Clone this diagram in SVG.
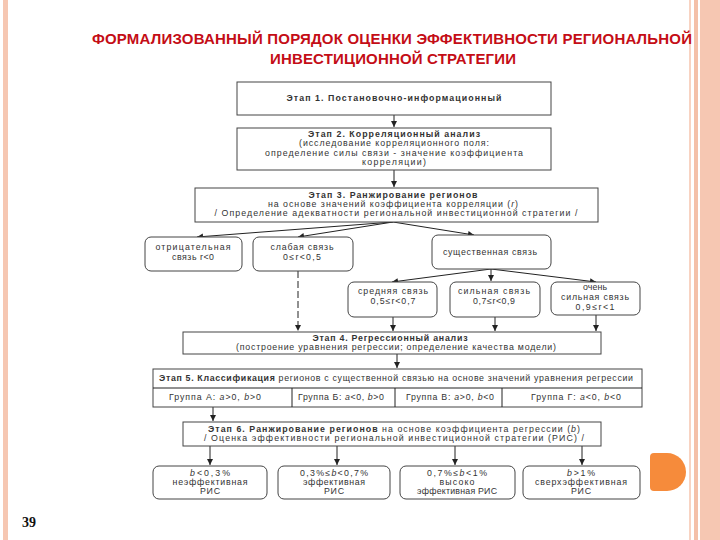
<svg xmlns="http://www.w3.org/2000/svg" width="720" height="540" viewBox="0 0 720 540">
<defs>
<marker id="ah" markerUnits="userSpaceOnUse" markerWidth="7" markerHeight="7" refX="6" refY="3" orient="auto">
<path d="M0,0 L6,3 L0,6 Z" fill="#222"/>
</marker>
<style>
.box{fill:#fff;stroke:#444;stroke-width:1}
.t{font-family:"Liberation Sans",Arial,sans-serif;font-size:8.8px;fill:#333;text-anchor:middle}
.b{font-weight:bold}
.i{font-style:italic}
.ln{stroke:#222;stroke-width:1;fill:none}
.ttl{font-family:"Liberation Sans",Arial,sans-serif;font-size:15px;font-weight:bold;fill:#c40d16;text-anchor:middle}
</style>
</defs>
<rect width="720" height="540" fill="#fff"/>
<!-- decorations -->
<rect x="3" y="0" width="5" height="540" fill="#f6c7b2"/>
<rect x="689" y="0" width="2" height="540" fill="#f8d3c2"/>
<rect x="694" y="0" width="4" height="540" fill="#f4c0a8"/>
<rect x="700" y="0" width="20" height="540" fill="#f6c7b2"/>
<path d="M654,453 H667 A19,19 0 0 1 667,491 H654 Q650,491 650,487 V457 Q650,453 654,453 Z" fill="#f68b3b"/>
<text x="22" y="527" font-family="Liberation Serif,serif" font-weight="bold" font-size="14" fill="#111">39</text>
<!-- title -->
<text class="ttl" x="392" y="44" textLength="600">ФОРМАЛИЗОВАННЫЙ ПОРЯДОК ОЦЕНКИ ЭФФЕКТИВНОСТИ РЕГИОНАЛЬНОЙ</text>
<text class="ttl" x="393" y="64" textLength="246">ИНВЕСТИЦИОННОЙ СТРАТЕГИИ</text>

<g id="connectors">
<line class="ln" x1="394" y1="115" x2="394" y2="127" marker-end="url(#ah)"/>
<line class="ln" x1="394" y1="170" x2="394" y2="187" marker-end="url(#ah)"/>
<line class="ln" x1="393" y1="222" x2="197" y2="237" marker-end="url(#ah)"/>
<line class="ln" x1="393" y1="222" x2="298" y2="237" marker-end="url(#ah)"/>
<line class="ln" x1="393" y1="222" x2="474" y2="235" marker-end="url(#ah)"/>
<line class="ln" x1="491" y1="269" x2="491" y2="281" marker-end="url(#ah)"/>
<line class="ln" x1="491" y1="269" x2="392" y2="282" marker-end="url(#ah)"/>
<line class="ln" x1="491" y1="269" x2="596" y2="282" marker-end="url(#ah)"/>
<line class="ln" x1="298" y1="271" x2="298" y2="331" stroke-dasharray="7,3" marker-end="url(#ah)"/>
<line class="ln" x1="393" y1="317" x2="393" y2="331" marker-end="url(#ah)"/>
<line class="ln" x1="495" y1="317" x2="495" y2="331" marker-end="url(#ah)"/>
<line class="ln" x1="596" y1="315" x2="596" y2="331" marker-end="url(#ah)"/>
<line class="ln" x1="397" y1="354" x2="397" y2="368" marker-end="url(#ah)"/>
<line class="ln" x1="213" y1="407" x2="213" y2="421" marker-end="url(#ah)"/>
<line class="ln" x1="210" y1="446" x2="210" y2="465" marker-end="url(#ah)"/>
<line class="ln" x1="337" y1="446" x2="337" y2="465" marker-end="url(#ah)"/>
<line class="ln" x1="455" y1="446" x2="455" y2="465" marker-end="url(#ah)"/>
<line class="ln" x1="582" y1="446" x2="582" y2="465" marker-end="url(#ah)"/>
</g>

<g id="stage1">
<rect class="box" x="237" y="82" width="314" height="33"/>
<text class="t b" x="394" y="101" textLength="215">Этап 1. Постановочно-информационный</text>
</g>
<g id="stage2">
<rect class="box" x="237" y="128" width="314" height="42"/>
<text class="t b" x="394" y="137" textLength="172">Этап 2. Корреляционный анализ</text>
<text class="t" x="394" y="146" textLength="190">(исследование корреляционного поля:</text>
<text class="t" x="394" y="156" textLength="258">определение силы связи - значение коэффициента</text>
<text class="t" x="394" y="165" textLength="64">корреляции)</text>
</g>
<g id="stage3">
<rect class="box" x="195" y="188" width="403" height="34"/>
<text class="t b" x="393" y="198" textLength="169">Этап 3. Ранжирование регионов</text>
<text class="t" x="393" y="207" textLength="250">на основе значений коэффициента корреляции (<tspan class="i">r</tspan>)</text>
<text class="t" x="396" y="216" textLength="363">/ Определение адекватности региональной инвестиционной стратегии /</text>
</g>
<g id="negative">
<rect class="box" x="145" y="237" width="97" height="34" rx="6"/>
<text class="t" x="193" y="250" textLength="75">отрицательная</text>
<text class="t" x="193" y="260" textLength="42">связь r&lt;0</text>
</g>
<g id="weak">
<rect class="box" x="253" y="237" width="100" height="34" rx="6"/>
<text class="t" x="302" y="250" textLength="63">слабая связь</text>
<text class="t" x="302" y="260" textLength="38">0≤r&lt;0,5</text>
</g>
<g id="significant">
<rect class="box" x="432" y="235" width="119" height="34" rx="6"/>
<text class="t" x="490" y="255" textLength="94">существенная связь</text>
</g>
<g id="medium">
<rect class="box" x="348" y="282" width="89" height="35" rx="6"/>
<text class="t" x="393" y="294" textLength="70">средняя связь</text>
<text class="t" x="393" y="304" textLength="45">0,5≤r&lt;0,7</text>
</g>
<g id="strong">
<rect class="box" x="450" y="282" width="90" height="35" rx="6"/>
<text class="t" x="494" y="294" textLength="72">сильная связь</text>
<text class="t" x="494" y="304" textLength="42">0,7≤r&lt;0,9</text>
</g>
<g id="verystrong">
<rect class="box" x="551" y="282" width="89" height="33" rx="6"/>
<text class="t" x="595" y="290" textLength="24">очень</text>
<text class="t" x="595" y="300" textLength="68">сильная связь</text>
<text class="t" x="595" y="310" textLength="39">0,9≤r&lt;1</text>
</g>
<g id="stage4">
<rect class="box" x="183" y="332" width="418" height="22"/>
<text class="t b" x="390" y="341" textLength="155">Этап 4. Регрессионный анализ</text>
<text class="t" x="396" y="350" textLength="320">(построение уравнения регрессии; определение качества модели)</text>
</g>
<g id="stage5">
<rect class="box" x="153" y="369" width="489" height="38"/>
<line class="ln" x1="153" y1="388" x2="642" y2="388" stroke="#444"/>
<line class="ln" x1="292" y1="388" x2="292" y2="407" stroke="#444"/>
<line class="ln" x1="395" y1="388" x2="395" y2="407" stroke="#444"/>
<line class="ln" x1="502" y1="388" x2="502" y2="407" stroke="#444"/>
<text class="t" x="396" y="381" textLength="474"><tspan class="b">Этап 5. Классификация</tspan> регионов с существенной связью на основе значений уравнения регрессии</text>
<text class="t" x="215" y="400" textLength="92">Группа А: <tspan class="i">a</tspan>&gt;0, <tspan class="i">b</tspan>&gt;0</text>
<text class="t" x="341" y="400" textLength="86">Группа Б: <tspan class="i">a</tspan>&lt;0, <tspan class="i">b</tspan>&gt;0</text>
<text class="t" x="450" y="400" textLength="88">Группа В: <tspan class="i">a</tspan>&gt;0, <tspan class="i">b</tspan>&lt;0</text>
<text class="t" x="576" y="400" textLength="90">Группа Г: <tspan class="i">a</tspan>&lt;0, <tspan class="i">b</tspan>&lt;0</text>
</g>
<g id="stage6">
<rect class="box" x="183" y="422" width="418" height="24"/>
<text class="t" x="394" y="432" textLength="372"><tspan class="b">Этап 6. Ранжирование регионов</tspan> на основе коэффициента регрессии (<tspan class="i">b</tspan>)</text>
<text class="t" x="394" y="441" textLength="380">/ Оценка эффективности региональной инвестиционной стратегии (РИС) /</text>
</g>
<g id="res1">
<rect class="box" x="153" y="466" width="114" height="33" rx="6"/>
<text class="t" x="210" y="476" textLength="40"><tspan class="i">b</tspan>&lt;0,3%</text>
<text class="t" x="210" y="485" textLength="75">неэффективная</text>
<text class="t" x="210" y="494" textLength="20">РИС</text>
</g>
<g id="res2">
<rect class="box" x="278" y="466" width="112" height="33" rx="6"/>
<text class="t" x="334" y="476" textLength="68">0,3%≤<tspan class="i">b</tspan>&lt;0,7%</text>
<text class="t" x="334" y="485" textLength="62">эффективная</text>
<text class="t" x="334" y="494" textLength="20">РИС</text>
</g>
<g id="res3">
<rect class="box" x="400" y="466" width="115" height="33" rx="6"/>
<text class="t" x="457" y="476" textLength="60">0,7%≤<tspan class="i">b</tspan>&lt;1%</text>
<text class="t" x="457" y="485" textLength="35">высоко</text>
<text class="t" x="457" y="494" textLength="80">эффективная РИС</text>
</g>
<g id="res4">
<rect class="box" x="523" y="466" width="117" height="33" rx="6"/>
<text class="t" x="581" y="476" textLength="28"><tspan class="i">b</tspan>&gt;1%</text>
<text class="t" x="581" y="485" textLength="92">сверхэффективная</text>
<text class="t" x="581" y="494" textLength="20">РИС</text>
</g>
</svg>
